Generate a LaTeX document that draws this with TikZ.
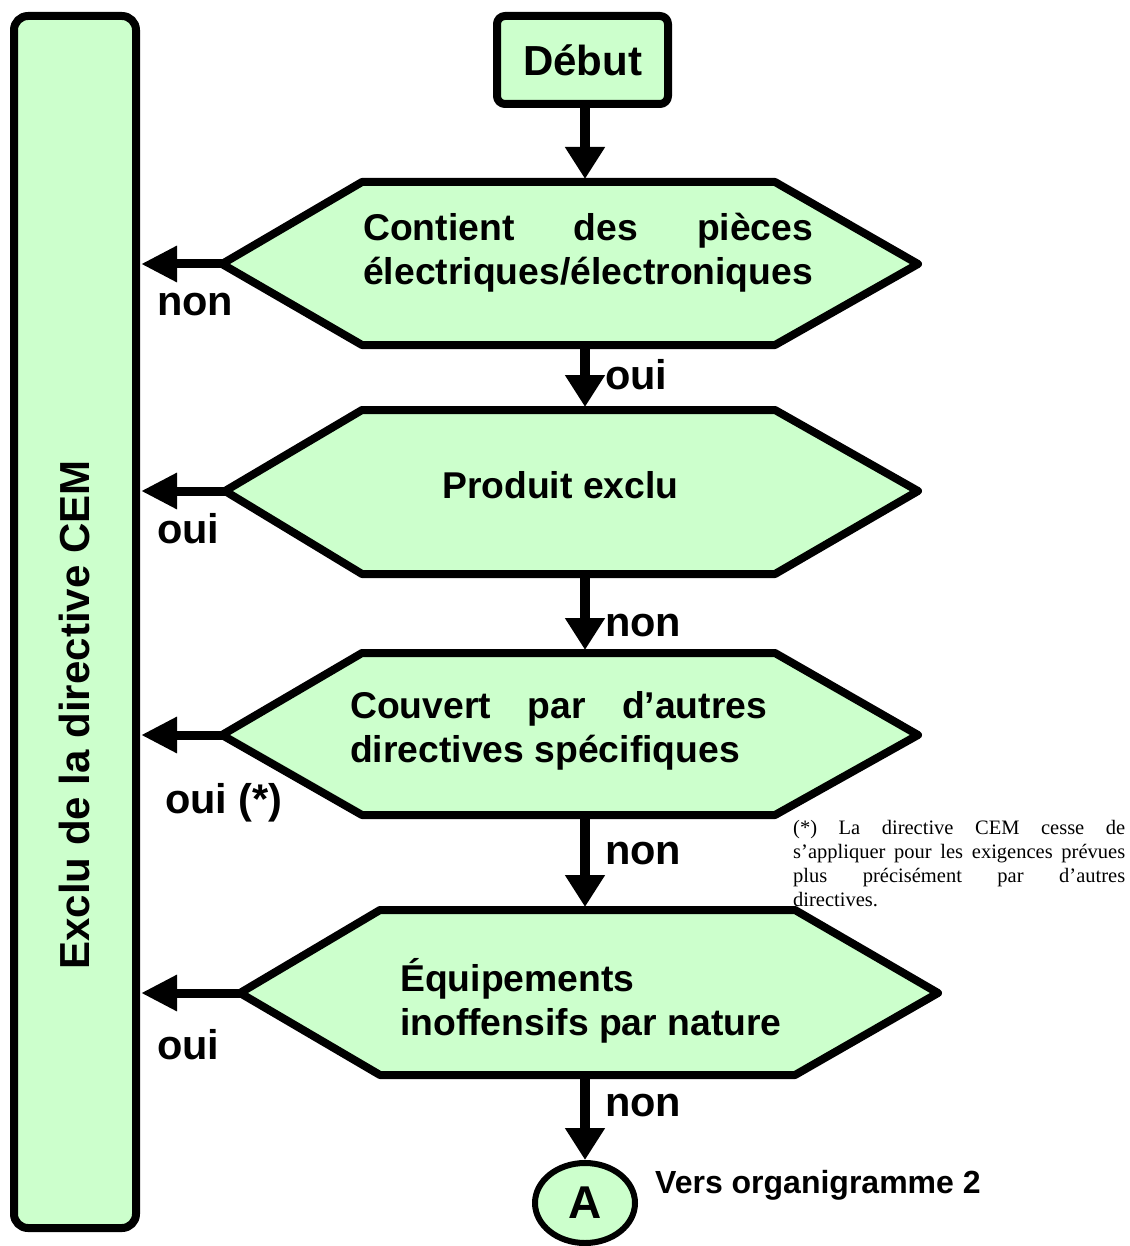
\documentclass[tikz,border=0pt]{standalone}
\usepackage{fontspec}
\setmainfont{Liberation Sans}
\newfontfamily\notefont{Liberation Serif}
\usetikzlibrary{arrows.meta,shapes.geometric}
\definecolor{boxgreen}{HTML}{CCFFCC}
\begin{document}
\begin{tikzpicture}[x=1pt,y=-1pt,
  shp/.style={draw=black,fill=boxgreen,line width=8pt,line join=round},
  arr/.style={line width=10pt,-{Triangle[width=38pt,length=32pt]}},
  larr/.style={line width=9pt,-{Triangle[width=34pt,length=36pt]}},
  hext/.style={font=\bfseries\fontsize{37.3}{44}\selectfont,inner sep=0pt,anchor=base west},
  lab/.style={font=\bfseries\fontsize{41.5}{48}\selectfont,inner sep=0pt,anchor=base west},
  note/.style={font=\notefont\fontsize{20.5}{24}\selectfont,inner sep=0pt,anchor=base west}]
\useasboundingbox (0,0) rectangle (1129,1246);

% left bar
\draw[shp,rounded corners=14pt] (14,16) rectangle (136,1228);
\node[rotate=90,font=\bfseries\fontsize{42}{48}\selectfont,inner sep=0pt] (barlbl) at (74,715) {Exclu de la directive CEM};
\coordinate (barA) at (141,264);
\coordinate (barB) at (141,491);
\coordinate (barC) at (141,735);
\coordinate (barD) at (141,993);

% start
\node[shp,rounded corners=8pt,minimum width=171pt,minimum height=88pt,inner sep=0pt,
      font=\bfseries\fontsize{42}{48}\selectfont] (debut) at (582.5,60) {Début};

% hexagon 1
\draw[shp] (222,264) -- (362,182) -- (775,182) -- (918,264) -- (775,345) -- (362,345) -- cycle;
\coordinate (h1t) at (585,179); \coordinate (h1b) at (585,348); \coordinate (h1l) at (222,264);
\node[hext] (t1a) at (363,241) {\makebox[450pt][s]{Contient des pièces}};
\node[hext] (t1b) at (363,285) {électriques/électroniques};

% hexagon 2
\draw[shp] (225,491) -- (362,410) -- (775,410) -- (918,491) -- (775,574) -- (362,574) -- cycle;
\coordinate (h2t) at (585,407); \coordinate (h2b) at (585,577); \coordinate (h2l) at (225,491);
\node[hext] (t2a) at (442,498) {Produit exclu};

% hexagon 3
\draw[shp] (222,735) -- (362,653) -- (775,653) -- (918,735) -- (775,815) -- (362,815) -- cycle;
\coordinate (h3t) at (585,650); \coordinate (h3b) at (585,818); \coordinate (h3l) at (222,735);
\node[hext] (t3a) at (350,718) {\makebox[417pt][s]{Couvert par d’autres}};
\node[hext] (t3b) at (350,762) {directives spécifiques};

% hexagon 4
\draw[shp] (240,993) -- (380,910) -- (795,910) -- (938,993) -- (795,1075) -- (380,1075) -- cycle;
\coordinate (h4t) at (585,907); \coordinate (h4b) at (585,1078); \coordinate (h4l) at (240,993);
\node[hext] (t4a) at (400,991) {Équipements};
\node[hext] (t4b) at (400,1035) {inoffensifs par nature};

% connector A
\node[draw=black,fill=boxgreen,line width=6pt,ellipse,minimum width=100pt,minimum height=80pt,
      inner sep=0pt,font=\bfseries\fontsize{46}{50}\selectfont] (A) at (585,1203) {A};
\node[font=\bfseries\fontsize{32}{36}\selectfont,inner sep=0pt,anchor=base west] (vers) at (655,1193) {Vers organigramme 2};

% vertical arrows
\draw[arr] (debut.south -| h1t) -- (h1t);
\draw[arr] (h1b) -- (h2t);
\draw[arr] (h2b) -- (h3t);
\draw[arr] (h3b) -- (h4t);
\draw[arr] (h4b) -- (A.north);

% horizontal arrows
\draw[larr] (h1l) -- (barA);
\draw[larr] (h2l) -- (barB);
\draw[larr] (h3l) -- (barC);
\draw[larr] (h4l) -- (barD);

% labels
\node[lab] (l1) at (605,389) {oui};
\node[lab] (l2) at (605,636) {non};
\node[lab] (l3) at (605,864) {non};
\node[lab] (l4) at (605,1116) {non};
\node[lab] (r1) at (157,315) {non};
\node[lab] (r2) at (157,543) {oui};
\node[lab] (r3) at (165,813) {oui (*)};
\node[lab] (r4) at (157,1059) {oui};

% footnote
\node[note] (n1) at (793,834) {\makebox[332pt][s]{(*) La directive CEM cesse de}};
\node[note] (n2) at (793,858) {\makebox[332pt][s]{s’appliquer pour les exigences prévues}};
\node[note] (n3) at (793,882) {\makebox[332pt][s]{plus précisément par d’autres}};
\node[note] (n4) at (793,906) {directives.};
\end{tikzpicture}
\end{document}
